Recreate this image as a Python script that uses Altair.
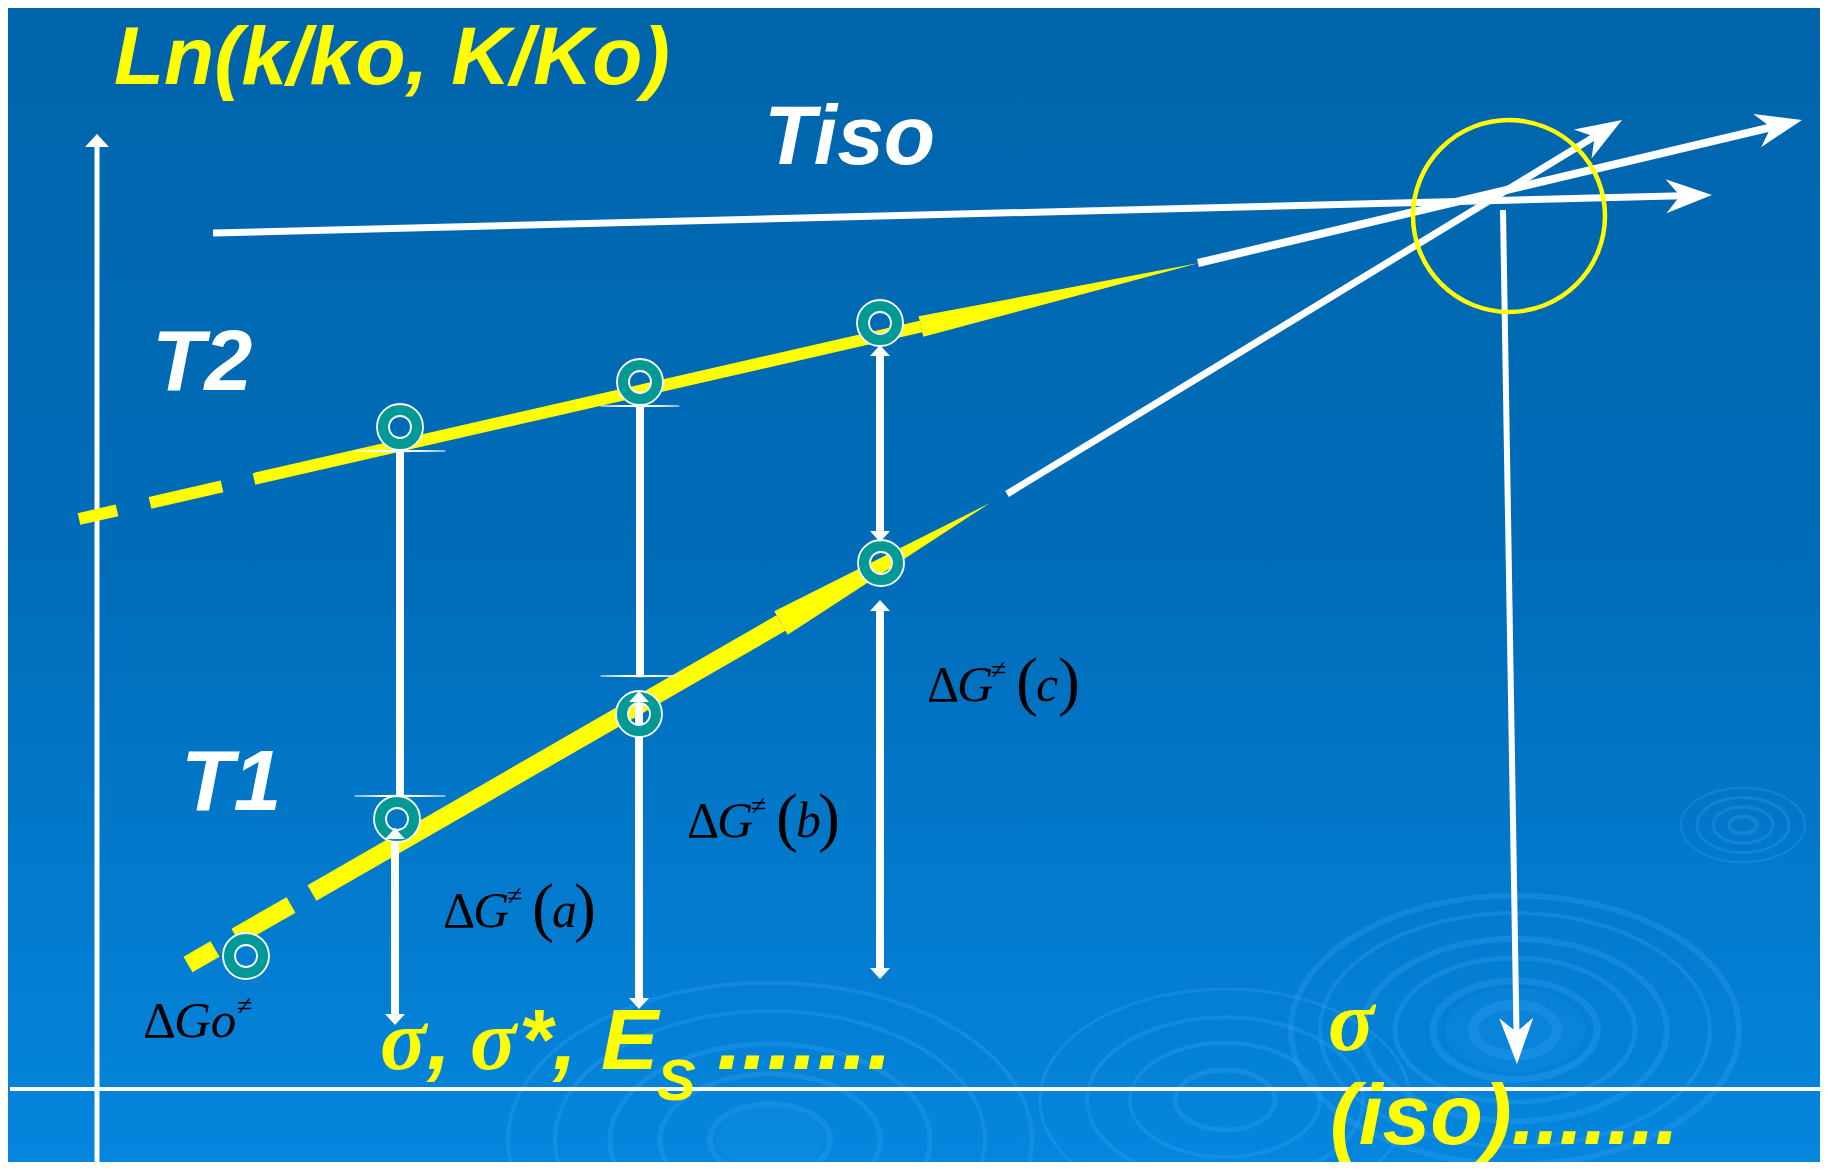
import math
import altair as alt
import pandas as pd

# ---------------- drawing space = reference pixel space (x right, y down) ----------------
X0, X1, Y0, Y1 = 8, 1820, 8, 1162
W, H = X1 - X0, Y1 - Y0
XS = alt.Scale(domain=[X0, X1], nice=False, zero=False)
YS = alt.Scale(domain=[Y0, Y1], nice=False, zero=False, reverse=True)

YELLOW = "#FFFF00"
TEAL = "#009995"

# ---------------- data ----------------
# coordinate axes (start -> end)
axis_x1 = [97, 10]
axis_y1 = [1170, 1089]
axis_x2 = [97, 1828]
axis_y2 = [141, 1089]
axis_w = [5, 4]
yaxis_tip = (97, 134)

# white straight strokes ending with an open arrow head: start and tip
arrow_x1 = [213, 1198, 1007, 1503]
arrow_y1 = [233, 263, 494, 210]
arrow_tx = [1712, 1802, 1622, 1517]
arrow_ty = [195, 120, 120, 1064]
arrow_w = [7, 8, 7, 6]

# yellow T2 / T1 lines: dashes, a shaft, then a long tapered head (base -> tip)
t2_dash_x1 = [79, 150]
t2_dash_y1 = [519, 502.8]
t2_dash_x2 = [117, 222]
t2_dash_y2 = [510.3, 486.3]
t2_shaft = (254, 479, 921, 326.5, 12)
t2_head = (921, 326.5, 1199, 263, 21)

t1_dash_x1 = [188, 236]
t1_dash_y1 = [964.5, 936.5]
t1_dash_x2 = [215, 291]
t1_dash_y2 = [949, 905]
t1_shaft = (312, 893, 781, 623, 18)
t1_head = (781, 623, 990, 503, 27)

# vertical connectors
conn_x = [400, 395, 640, 639, 880, 880]
conn_top = [451, 828, 406, 691, 345, 600]
conn_bot = [796, 1025, 676, 1009, 542, 979]
conn_kind = ["flare", "arrow", "flare", "arrow", "arrow", "arrow"]
flare_half = [45, 0, 39, 0, 0, 0]

# teal rings (T2 a,b,c ; T1 a,b,c ; ΔGo)
ring_x = [400, 640, 880, 397, 639, 881, 246]
ring_y = [427, 382, 323, 819, 714, 563, 956]

# yellow isokinetic circle
iso_cx, iso_cy, iso_r = 1509, 216, 96

# background ripples: centre and half widths of the rings
rip_cx = [1515, 1225, 770, 1743]
rip_cy = [1030, 1100, 1140, 825]
rip_hw = [[42, 82, 120, 152, 195, 224], [50, 95, 138, 185], [60, 110, 160, 215, 262], [14, 30, 46, 62]]
rip_sw = [[10, 7, 5, 6, 4, 6], [5, 4, 4, 3], [6, 5, 5, 4, 4], [4, 3, 3, 2]]

# texts
title_txt, title_pos = "Ln(k/ko, K/Ko)", (114, 84, 82)
sans_txt = [",", "*", ",", "E", "S", ".......", "(iso)......."]
sans_x = [427, 519, 553, 601, 657, 717, 1330]
sans_y = [1069, 1069, 1069, 1069, 1100, 1069, 1144]
sans_fs = [86, 86, 86, 86, 58, 90, 86]
sigma_x = [380, 470, 1328]
sigma_y = [1069, 1069, 1050]

white_txt = ["Tiso", "T2", "T1"]
white_x = [764, 152, 181]
white_y = [164, 390, 810]
white_fs = [84, 86, 86]

math_letter = ["a", "b", "c"]
math_x = [443, 687, 927]
math_y = [927, 837, 701]
go_x, go_y = 143, 1037

# ---------------- helpers ----------------
def X(f):
    return alt.X(f, type="quantitative", scale=XS, axis=None)


def Y(f):
    return alt.Y(f, type="quantitative", scale=YS, axis=None)


def rules(df, color):
    return alt.Chart(df).mark_rule(color=color, strokeCap="butt").encode(
        x=X("x1"), y=Y("y1"), x2=alt.X2("x2"), y2=alt.Y2("y2"),
        strokeWidth=alt.StrokeWidth("w:Q", scale=None, legend=None),
    )


def trails(df, color):
    return alt.Chart(df).mark_trail(color=color).encode(
        x=X("x"), y=Y("y"),
        size=alt.Size("w:Q", scale=None, legend=None),
        detail="seg:N", order="i:Q",
    )


def heads(df, path, color="white"):
    return alt.Chart(df).mark_point(shape=path, filled=True, color=color, size=4, opacity=1).encode(
        x=X("x"), y=Y("y"), angle=alt.Angle("ang:Q", scale=None)
    )


def texts(df, color, font, style, weight):
    return alt.Chart(df).mark_text(
        align="left", baseline="alphabetic", color=color, font=font,
        fontStyle=style, fontWeight=weight,
    ).encode(x=X("x"), y=Y("y"), text="t:N", size=alt.Size("fs:Q", scale=None, legend=None))


def wedge(base_x, base_y, tip_x, tip_y, width):
    L = math.hypot(tip_x - base_x, tip_y - base_y)
    h = width / 2
    path = f"M0,0 L{-L:.1f},{-h:.1f} L{-L:.1f},{h:.1f} Z"
    ang = math.degrees(math.atan2(tip_y - base_y, tip_x - base_x)) % 360
    return heads(pd.DataFrame({"x": [tip_x], "y": [tip_y], "ang": [ang]}), path, YELLOW)


OPEN_HEAD = "M0,0 L-46,-17 L-32,0 L-46,17 Z"
TRI_HEAD = "M0,0 L-11,-10 L-11,10 Z"
AX_HEAD = "M0,0 L-13,-12 L-13,12 Z"
ELLIPSE = "M-1,0 A1,0.6 0 1,0 1,0 A1,0.6 0 1,0 -1,0 Z"

layers = []

# background gradient
bg = pd.DataFrame({"x1": [X0], "x2": [X1], "y1": [Y0], "y2": [Y1]})
layers.append(
    alt.Chart(bg).mark_rect(
        color=alt.Gradient(
            gradient="linear",
            stops=[
                alt.GradientStop(color="#0064AB", offset=0),
                alt.GradientStop(color="#006DBA", offset=0.5),
                alt.GradientStop(color="#0586DE", offset=1),
            ],
            x1=0, x2=0, y1=0, y2=1,
        )
    ).encode(x=X("x1"), x2=alt.X2("x2"), y=Y("y1"), y2=alt.Y2("y2"))
)

# ripples
rip_rows = []
for cx, cy, hws, sws in zip(rip_cx, rip_cy, rip_hw, rip_sw):
    for hw, sw in zip(hws, sws):
        rip_rows.append({"x": cx, "y": cy, "s": (2 * hw) ** 2, "sw": sw})
rip = pd.DataFrame(rip_rows)
layers.append(
    alt.Chart(rip).mark_point(shape=ELLIPSE, filled=False, color="#3AA6F8", opacity=0.28).encode(
        x=X("x"), y=Y("y"),
        size=alt.Size("s:Q", scale=None, legend=None),
        strokeWidth=alt.StrokeWidth("sw:Q", scale=None, legend=None),
    )
)
blob = pd.DataFrame({"x": [rip_cx[0], rip_cx[2]], "y": [rip_cy[0], rip_cy[2]], "s": [(2 * 70) ** 2, (2 * 55) ** 2]})
layers.append(
    alt.Chart(blob).mark_point(shape=ELLIPSE, filled=True, color="#2A9BF0", opacity=0.15).encode(
        x=X("x"), y=Y("y"), size=alt.Size("s:Q", scale=None, legend=None)
    )
)

# axes
ax = pd.DataFrame({"x1": axis_x1, "y1": axis_y1, "x2": axis_x2, "y2": axis_y2, "w": axis_w})
layers.append(rules(ax, "white"))
layers.append(heads(pd.DataFrame({"x": [yaxis_tip[0]], "y": [yaxis_tip[1]], "ang": [270]}), AX_HEAD))

# yellow dashes, shafts and tapered heads
dashes = pd.DataFrame({
    "x1": t2_dash_x1 + t1_dash_x1 + [t2_shaft[0], t1_shaft[0]],
    "y1": t2_dash_y1 + t1_dash_y1 + [t2_shaft[1], t1_shaft[1]],
    "x2": t2_dash_x2 + t1_dash_x2 + [t2_shaft[2], t1_shaft[2]],
    "y2": t2_dash_y2 + t1_dash_y2 + [t2_shaft[3], t1_shaft[3]],
    "w": [12, 12, 18, 18, t2_shaft[4], t1_shaft[4]],
})
layers.append(rules(dashes, YELLOW))
layers.append(wedge(*t2_head))
layers.append(wedge(*t1_head))

# white arrows (line stops at the notch of the head)
ar_rows, hd_rows = [], []
for x1, y1, tx, ty, w in zip(arrow_x1, arrow_y1, arrow_tx, arrow_ty, arrow_w):
    dx, dy = tx - x1, ty - y1
    L = math.hypot(dx, dy)
    ux, uy = dx / L, dy / L
    ar_rows.append({"x1": x1, "y1": y1, "x2": tx - 30 * ux, "y2": ty - 30 * uy, "w": w})
    hd_rows.append({"x": tx, "y": ty, "ang": math.degrees(math.atan2(dy, dx)) % 360})
layers.append(rules(pd.DataFrame(ar_rows), "white"))

# connectors
cn_rows, fl_rows, th_rows = [], [], []
k = 0
for x, t, b, kind, fh in zip(conn_x, conn_top, conn_bot, conn_kind, flare_half):
    if kind == "arrow":
        cn_rows.append({"x1": x, "y1": t + 9, "x2": x, "y2": b - 9, "w": 8})
        th_rows.append({"x": x, "y": t, "ang": 270})
        th_rows.append({"x": x, "y": b, "ang": 90})
    else:
        cn_rows.append({"x1": x, "y1": t, "x2": x, "y2": b, "w": 8})
        for yy in (t, b):
            for i, (xx, ww) in enumerate([(x - fh, 0), (x, 2.6), (x + fh, 0)]):
                fl_rows.append({"x": xx, "y": yy, "w": ww, "seg": k, "i": i})
            k += 1
layers.append(rules(pd.DataFrame(cn_rows), "white"))
layers.append(trails(pd.DataFrame(fl_rows), "white"))

# teal rings
rings = pd.DataFrame({"x": ring_x, "y": ring_y})
layers.append(alt.Chart(rings).mark_point(shape="circle", filled=False, color=TEAL, strokeWidth=12,
                                          size=34 ** 2, opacity=1).encode(x=X("x"), y=Y("y")))
layers.append(alt.Chart(rings).mark_point(shape="circle", filled=False, color="white", strokeWidth=1.8,
                                          size=46 ** 2, opacity=1).encode(x=X("x"), y=Y("y")))
layers.append(alt.Chart(rings).mark_point(shape="circle", filled=False, color="white", strokeWidth=1.8,
                                          size=22 ** 2, opacity=1).encode(x=X("x"), y=Y("y")))

# arrow heads
layers.append(heads(pd.DataFrame(th_rows), TRI_HEAD))
layers.append(heads(pd.DataFrame(hd_rows), OPEN_HEAD))

# yellow circle
layers.append(alt.Chart(pd.DataFrame({"x": [iso_cx], "y": [iso_cy]})).mark_point(
    shape="circle", filled=False, color=YELLOW, strokeWidth=4.5, size=(2 * iso_r) ** 2, opacity=1
).encode(x=X("x"), y=Y("y")))

# texts
ytxt = pd.DataFrame({"t": [title_txt] + sans_txt, "x": [title_pos[0]] + sans_x,
                     "y": [title_pos[1]] + sans_y, "fs": [title_pos[2]] + sans_fs})
layers.append(texts(ytxt, YELLOW, "Liberation Sans", "italic", "bold"))
stxt = pd.DataFrame({"t": ["σ"] * len(sigma_x), "x": sigma_x, "y": sigma_y, "fs": [86] * len(sigma_x)})
layers.append(texts(stxt, YELLOW, "Liberation Serif", "italic", "bold"))
wtxt = pd.DataFrame({"t": white_txt, "x": white_x, "y": white_y, "fs": white_fs})
layers.append(texts(wtxt, "white", "Liberation Sans", "italic", "bold"))

up_rows, it_rows = [], []
for L, x, y in zip(math_letter, math_x, math_y):
    up_rows += [
        {"t": "Δ", "x": x, "y": y, "fs": 50},
        {"t": "≠", "x": x + 64, "y": y - 22, "fs": 28},
        {"t": "(", "x": x + 89, "y": y + 2, "fs": 66},
        {"t": ")", "x": x + 131, "y": y + 2, "fs": 66},
    ]
    it_rows += [
        {"t": "G", "x": x + 30, "y": y, "fs": 50},
        {"t": L, "x": x + 109, "y": y, "fs": 50},
    ]
up_rows += [{"t": "Δ", "x": go_x, "y": go_y, "fs": 51}, {"t": "≠", "x": go_x + 94, "y": go_y - 22, "fs": 28}]
it_rows += [{"t": "Go", "x": go_x + 31, "y": go_y, "fs": 51}]
layers.append(texts(pd.DataFrame(up_rows), "black", "Liberation Serif", "normal", "normal"))
layers.append(texts(pd.DataFrame(it_rows), "black", "Liberation Serif", "italic", "normal"))

chart = alt.layer(*layers).properties(
    width=W, height=H, padding=0, autosize=alt.AutoSizeParams(type="none"), background="#0064AB"
).configure_view(stroke=None)

chart.save("out.html", embed_options={"renderer": "svg", "actions": False})
